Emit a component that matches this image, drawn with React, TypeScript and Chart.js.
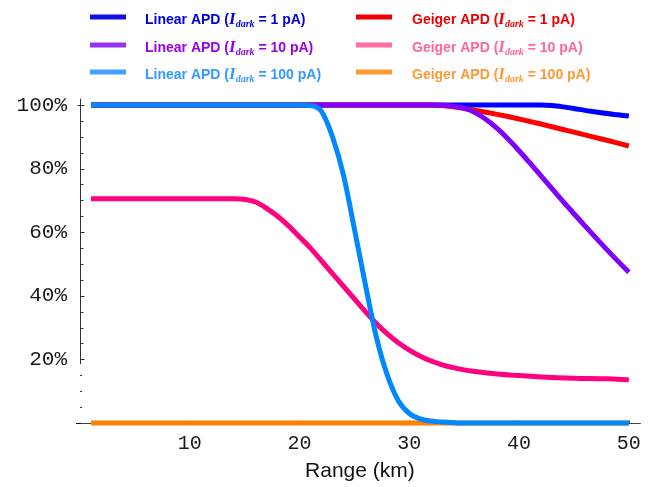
import { useEffect, useRef } from 'react';
import { Chart, registerables } from 'chart.js';

Chart.register(...registerables);

// ---- Data ----
const xTicks = [10, 20, 30, 40, 50];
const yTicks = [20, 40, 60, 80, 100];
const yMinorTicks = [25, 30, 35, 45, 50, 55, 65, 70, 75, 85, 90, 95];
const yDotTicks = [5, 10, 15];

const linear1Km = [1, 42, 43, 44, 45, 46, 47, 48, 49, 50];
const linear1Pct = [100, 100, 99.8, 99.4, 98.9, 98.3, 97.8, 97.3, 96.9, 96.5];

const linear10Km = [1, 32, 33, 34, 35, 36, 37, 38, 39, 40, 41, 42, 43, 44, 45, 46, 47, 48, 49, 50];
const linear10Pct = [100, 100, 99.9, 99.6, 99, 97.6, 95.4, 92.6, 89.3, 85.6, 81.7, 77.7, 73.7, 69.7, 65.8, 62, 58.2, 54.5, 50.9, 47.4];

const linear100Km = [1, 20, 21, 22, 23, 24, 25, 26, 27, 28, 29, 30, 31, 32, 33, 34, 35, 50];
const linear100Pct = [100, 100, 99.8, 98, 90, 78, 61, 43.5, 27, 15, 7, 3, 1.3, 0.6, 0.3, 0.1, 0, 0];

const geiger1Km = [1, 32, 33, 34, 35, 36, 37, 38, 39, 40, 41, 42, 43, 44, 45, 46, 47, 48, 49, 50];
const geiger1Pct = [100, 100, 99.8, 99.4, 98.9, 98.3, 97.7, 97.05, 96.35, 95.6, 94.8, 94, 93.15, 92.3, 91.45, 90.6, 89.75, 88.9, 88, 87.1];

const geiger10Km = [1, 14, 15, 16, 17, 18, 19, 20, 21, 22, 23, 24, 25, 26, 27, 28, 29, 30, 31, 32, 33, 34, 35, 36, 38, 40, 42, 45, 48, 50];
const geiger10Pct = [70.5, 70.5, 70.3, 69.5, 67.5, 65, 62, 58.5, 55, 51, 47, 43, 39, 35, 31.3, 28, 25.2, 22.9, 21, 19.5, 18.3, 17.4, 16.7, 16.2, 15.4, 14.9, 14.5, 14.1, 13.9, 13.6];

const geiger100Km = [1, 50];
const geiger100Pct = [0, 0];

const seriesPrefix = ['Linear APD', 'Linear APD', 'Linear APD', 'Geiger APD', 'Geiger APD', 'Geiger APD'];
const seriesCurrent = ['1 pA', '10 pA', '100 pA', '1 pA', '10 pA', '100 pA'];
const seriesKm = [linear1Km, linear10Km, linear100Km, geiger1Km, geiger10Km, geiger100Km];
const seriesPct = [linear1Pct, linear10Pct, linear100Pct, geiger1Pct, geiger10Pct, geiger100Pct];

// ---- Styles ----
const lineColors = ['#0000ff', '#8000ff', '#0088ff', '#ff0000', '#ff0080', '#ff8000'];
const legendLineColors = ['#1010e6', '#9933f0', '#44a0ff', '#ee0000', '#ff70a0', '#ff9933'];
const legendTextColors = ['#0000dd', '#9900ee', '#3399ff', '#ee0000', '#ff6699', '#ff9933'];
const drawOrder = [4, 1, 0, 3, 2, 5];

const legendPlugin = {
  id: 'customLegend',
  afterDraw(chart: any) {
    const ctx = chart.ctx;
    const colLine = [90, 356];
    const colText = [145, 412];
    const rowBase = [24, 52, 79];
    for (let i = 0; i < 6; i++) {
      const col = i < 3 ? 0 : 1;
      const row = i % 3;
      const yb = rowBase[row];
      ctx.save();
      ctx.strokeStyle = legendLineColors[i];
      ctx.lineWidth = 5;
      ctx.beginPath();
      ctx.moveTo(colLine[col], yb - 7);
      ctx.lineTo(colLine[col] + 36, yb - 7);
      ctx.stroke();
      ctx.fillStyle = legendTextColors[i];
      ctx.textAlign = 'left';
      ctx.textBaseline = 'alphabetic';
      let x = colText[col];
      ctx.font = 'bold 14px "Liberation Sans"';
      const s1 = seriesPrefix[i] + ' (';
      ctx.fillText(s1, x, yb);
      x += ctx.measureText(s1).width;
      ctx.font = 'italic bold 17px "Liberation Serif"';
      ctx.fillText('I', x, yb);
      x += ctx.measureText('I').width;
      ctx.font = 'italic bold 10px "Liberation Serif"';
      ctx.fillText('dark', x, yb + 3);
      x += ctx.measureText('dark').width;
      ctx.font = 'bold 14px "Liberation Sans"';
      ctx.fillText(' = ' + seriesCurrent[i] + ')', x, yb);
      ctx.restore();
    }
    // x-axis title
    ctx.save();
    ctx.fillStyle = '#111';
    ctx.font = '21px "Liberation Sans"';
    ctx.textAlign = 'center';
    ctx.textBaseline = 'middle';
    const xs = chart.scales.x;
    ctx.fillText('Range (km)', (xs.left + xs.right) / 2, 471);
    ctx.restore();
  },
};

const axesPlugin = {
  id: 'customAxes',
  beforeDatasetsDraw(chart: any) {
    const ctx = chart.ctx;
    const xs = chart.scales.x;
    const ys = chart.scales.y;
    const area = chart.chartArea;
    ctx.save();
    ctx.strokeStyle = '#444';
    ctx.lineWidth = 1;
    // x axis
    const y0 = Math.round(ys.getPixelForValue(0)) + 0.5;
    ctx.beginPath();
    ctx.moveTo(area.left, y0);
    ctx.lineTo(area.right + 1, y0);
    ctx.stroke();
    xTicks.forEach((v) => {
      const px = Math.round(xs.getPixelForValue(v)) + 0.5;
      ctx.beginPath();
      ctx.moveTo(px, y0);
      ctx.lineTo(px, y0 - 3);
      ctx.stroke();
    });
    // y axis
    const ax = Math.round(area.left) + 0.5;
    ctx.strokeStyle = '#333';
    ctx.beginPath();
    ctx.moveTo(ax, area.top);
    ctx.lineTo(ax, ys.getPixelForValue(18.5));
    ctx.stroke();
    yTicks.forEach((v) => {
      const py = Math.round(ys.getPixelForValue(v)) + 0.5;
      ctx.beginPath();
      ctx.moveTo(v === 100 ? ax - 3 : ax, py);
      ctx.lineTo(ax + 4, py);
      ctx.stroke();
    });
    yMinorTicks.forEach((v) => {
      const py = Math.round(ys.getPixelForValue(v)) + 0.5;
      ctx.beginPath();
      ctx.moveTo(ax, py);
      ctx.lineTo(ax + 3, py);
      ctx.stroke();
    });
    ctx.fillStyle = '#333';
    yDotTicks.forEach((v) => {
      const py = Math.round(ys.getPixelForValue(v));
      ctx.fillRect(ax - 0.5, py, 2, 1);
    });
    ctx.fillStyle = '#111';
    ctx.fillRect(ax - 4.5, Math.round(ys.getPixelForValue(0)), 5, 1);
    ctx.restore();
  },
};

export default function App() {
  const ref = useRef<HTMLCanvasElement | null>(null);

  useEffect(() => {
    document.body.style.margin = '0';
    const canvas = ref.current;
    if (!canvas) return;
    const datasets = seriesKm.map((kms, i) => ({
      label: seriesPrefix[i] + ' (' + seriesCurrent[i] + ')',
      data: kms.map((k, j) => ({ x: k, y: seriesPct[i][j] })),
      borderColor: lineColors[i],
      backgroundColor: lineColors[i],
      borderWidth: 5,
      pointRadius: 0,
      fill: false,
      cubicInterpolationMode: 'monotone' as const,
      order: drawOrder[i],
      clip: false as any,
    }));
    const chart = new Chart(canvas, {
      type: 'line',
      data: { datasets },
      options: {
        animation: false,
        responsive: false,
        devicePixelRatio: 1,
        layout: { padding: { top: 98.6, right: 9, left: 0, bottom: 0 } },
        plugins: { legend: { display: false }, tooltip: { enabled: false } },
        scales: {
          x: {
            type: 'linear',
            min: 0,
            max: 51,
            grid: { display: false, drawTicks: false },
            border: { display: false },
            afterFit: (s: any) => { s.height = 64; },
            afterBuildTicks: (s: any) => { s.ticks = xTicks.map((v) => ({ value: v })); },
            ticks: {
              autoSkip: false,
              maxRotation: 0,
              padding: 9,
              color: '#1a1a1a',
              font: { family: '"Liberation Mono"', size: 20 },
              callback: (v: any) => String(v),
            },
          },
          y: {
            type: 'linear',
            min: 0,
            max: 102,
            grid: { display: false, drawTicks: false },
            border: { display: false },
            afterFit: (s: any) => { s.width = 80; },
            afterBuildTicks: (s: any) => { s.ticks = yTicks.map((v) => ({ value: v })); },
            ticks: {
              autoSkip: false,
              padding: 13,
              color: '#1a1a1a',
              font: { family: '"Liberation Mono"', size: 21 },
              callback: (v: any) => v + '%',
            },
          },
        },
      },
      plugins: [axesPlugin, legendPlugin],
    });
    return () => chart.destroy();
  }, []);

  return (
    <div style={{ width: 650, height: 487, background: '#fff' }}>
      <canvas ref={ref} width={650} height={487} style={{ display: 'block', width: 650, height: 487 }} />
    </div>
  );
}
